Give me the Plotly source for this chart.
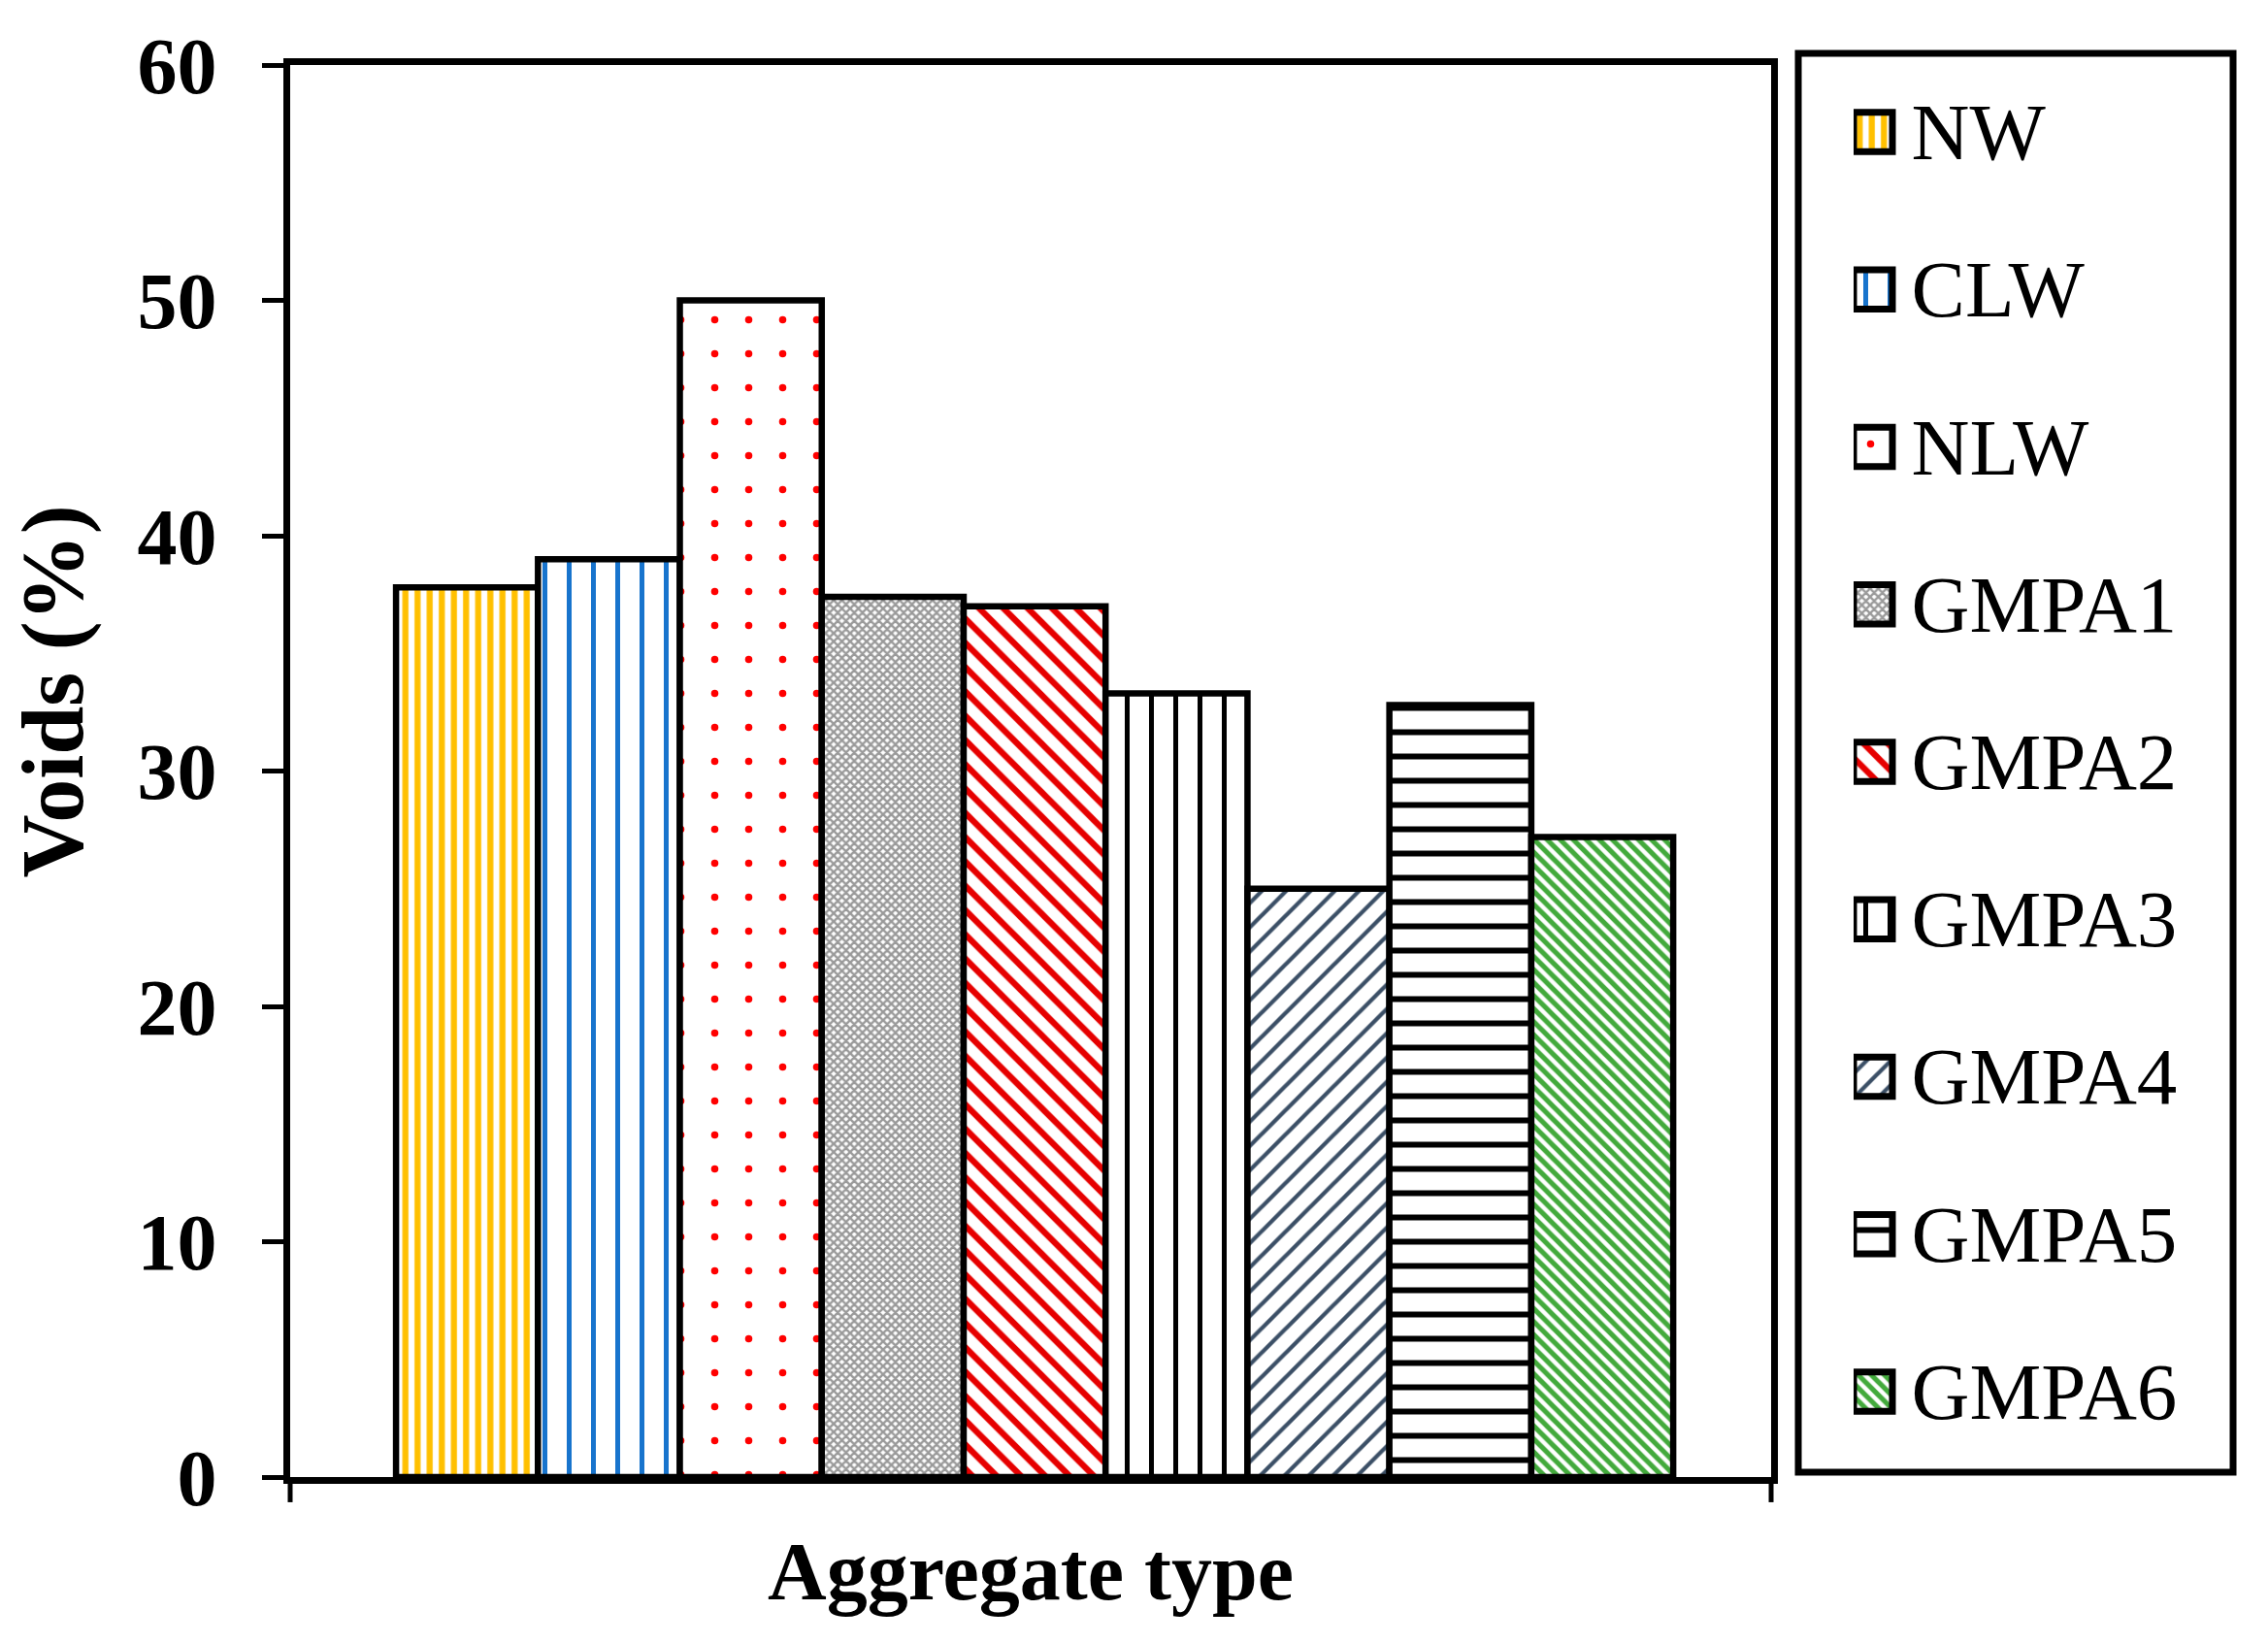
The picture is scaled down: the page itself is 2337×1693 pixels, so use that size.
import plotly.graph_objects as go

# ---- data ----
categories = ["NW", "CLW", "NLW", "GMPA1", "GMPA2", "GMPA3", "GMPA4", "GMPA5", "GMPA6"]
voids = [37.8, 39.0, 50.0, 37.4, 37.0, 33.3, 25.0, 32.8, 27.2]
y_ticks = [0, 10, 20, 30, 40, 50, 60]
x_title = "Aggregate type"
y_title = "Voids (%)"

# ---- styles (fill patterns per category) ----
pattern_shapes = ["|", "|", ".", "x", "\\", "|", "/", "-", "\\"]
pattern_colors = ["#FFC000", "#1874CD", "#FF0000", "#9A9A9A", "#E60000",
                  "#000000", "#3B4F66", "#000000", "#43AA3C"]
pattern_sizes = [12.5, 25, 35, 6, 17.7, 25, 17.7, 25, 9.5]
pattern_solidity = [0.5, 0.2, 0.036, 0.65, 0.36, 0.2, 0.24, 0.24, 0.55]

FONT = "Liberation Serif, Times New Roman, serif"


def pattern():
    return dict(shape=pattern_shapes, fgcolor=pattern_colors, bgcolor="white",
                size=pattern_sizes, solidity=pattern_solidity, fillmode="replace")


fig = go.Figure()

# main bars
fig.add_trace(go.Bar(
    x=categories, y=voids, width=1,
    marker=dict(color="white", line=dict(color="black", width=6.5), pattern=pattern()),
    showlegend=False, xaxis="x", yaxis="y", hoverinfo="x+y",
))

# legend swatches (drawn as small bars in a helper subplot)
fig.add_trace(go.Bar(
    y=categories, x=[1] * len(categories), orientation="h", width=0.25,
    marker=dict(color="white", line=dict(color="black", width=7), pattern=pattern()),
    text=["\u2009" + c for c in categories], textposition="outside",
    cliponaxis=False, constraintext="none",
    textfont=dict(family=FONT, size=83, color="black"),
    showlegend=False, xaxis="x2", yaxis="y2", hoverinfo="skip",
))

fig.update_layout(
    width=2337, height=1693,
    margin=dict(l=299, r=27, t=40, b=171, autoexpand=False),
    paper_bgcolor="white", plot_bgcolor="white",
    showlegend=False,
    xaxis=dict(
        domain=[0, 0.75883], range=[-1.246, 9.19], automargin=False,
        showline=True, linecolor="black", linewidth=7, mirror=True,
        showticklabels=False, ticks="", showgrid=False, zeroline=False,
        title=dict(text=x_title, standoff=64,
                   font=dict(family=FONT, size=84, color="black", weight="bold")),
    ),
    yaxis=dict(
        domain=[0, 0.98178], range=[0, 60], tickmode="array", tickvals=y_ticks,
        automargin=False,
        ticks="outside", ticklen=22, tickwidth=5, tickcolor="black",
        ticklabelstandoff=30,
        showline=True, linecolor="black", linewidth=7, mirror=True,
        showgrid=False, zeroline=False,
        tickfont=dict(family=FONT, size=82, color="black", weight="bold"),
    ),
    xaxis2=dict(domain=[0.80109, 0.99553], range=[0, 9.775], visible=False,
                anchor="y2", automargin=False),
    yaxis2=dict(domain=[0.0047, 0.9899], autorange="reversed", visible=False,
                anchor="x2", automargin=False,
                categoryorder="array", categoryarray=categories),
    shapes=[
        # legend frame
        dict(type="rect", xref="paper", yref="paper", x0=0.77275, x1=0.99553,
             y0=0.00337, y1=0.98988, line=dict(color="black", width=7)),
        # x-axis end ticks
        dict(type="line", xref="paper", yref="paper", x0=0, x1=0, y0=0, y1=-0.0175,
             line=dict(color="black", width=5)),
        dict(type="line", xref="paper", yref="paper", x0=0.75883, x1=0.75883, y0=0, y1=-0.0175,
             line=dict(color="black", width=5)),
    ],
    annotations=[
        dict(text=y_title, xref="paper", yref="paper", x=-0.1215, y=0.546,
             textangle=-90, showarrow=False, xanchor="center", yanchor="middle",
             font=dict(family=FONT, size=90, color="black", weight="bold")),
    ],
)

fig.write_html("out.html", config={"displayModeBar": False},
               post_script="document.body.style.margin='0';")
